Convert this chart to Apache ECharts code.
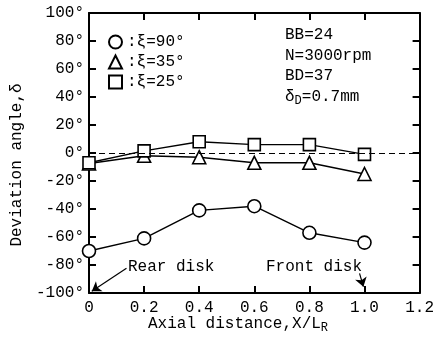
<!DOCTYPE html>
<html><head><meta charset="utf-8">
<script src="https://cdn.jsdelivr.net/npm/echarts@6/dist/echarts.min.js"></script>
<style>html,body{margin:0;padding:0;background:#fff}#c{width:437px;height:337px}</style>
</head><body><div id="c"></div>
<script>
const xValues = [0, 0.2, 0.4, 0.6, 0.8, 1.0];
const xi90 = [-70, -61, -41, -38, -57, -64];
const xi35 = [-7.5, -2, -3, -7, -7, -15];
const xi25 = [-7, 1.5, 8, 6, 6, -1];
const seriesNames = [':ξ=90°', ':ξ=35°', ':ξ=25°'];
const infoLines = ['BB=24', 'N=3000rpm', 'BD=37'];

const F = 'Liberation Mono, DejaVu Sans Mono, monospace';
const FS = 16;
const pair = a => xValues.map((x, i) => [x, a[i]]);
const chart = echarts.init(document.getElementById('c'), null, {renderer: 'canvas'});
const axisCommon = {
  type: 'value',
  axisLine: {show: true, onZero: false, lineStyle: {color: '#000', width: 2}},
  axisTick: {show: true, inside: true, length: 7, lineStyle: {color: '#000', width: 2}},
  splitLine: {show: false}
};
const baseSeries = (name, data, symbol, size) => ({
  name, type: 'line', data: pair(data), symbol, symbolSize: size,
  showSymbol: true,
  lineStyle: {color: '#000', width: 1.4},
  itemStyle: {color: '#fff', borderColor: '#000', borderWidth: 1.6},
  z: 3
});
const s1 = baseSeries(seriesNames[0], xi90, 'circle', 13);
s1.markLine = {
  silent: true, animation: false,
  label: {show: false},
  lineStyle: {color: '#000', width: 1.2, type: 'solid'},
  symbolSize: 9,
  data: [
    [{coord: [0.136, -82.4], symbol: 'none'}, {coord: [0.01, -98.8], symbol: 'arrow'}],
    [{coord: [0.982, -86], symbol: 'none'}, {coord: [0.996, -95.5], symbol: 'arrow'}]
  ]
};
const s3 = baseSeries(seriesNames[2], xi25, 'rect', 12);
s3.markLine = {
  silent: true, animation: false, symbol: ['none', 'none'],
  label: {show: false},
  lineStyle: {color: '#000', width: 1.2, type: [6, 4]},
  data: [{yAxis: 0}]
};
chart.setOption({
  animation: false,
  backgroundColor: '#fff',
  textStyle: {fontFamily: F},
  grid: {left: 89, top: 13, right: 13, bottom: 44},
  legend: {
    orient: 'vertical', left: 108, top: 34, padding: 0, itemGap: 4, itemWidth: 13, itemHeight: 13,
    textStyle: {fontFamily: F, fontSize: FS, color: '#000'},
    data: [
      {name: seriesNames[0], icon: 'circle'},
      {name: seriesNames[1], icon: 'triangle'},
      {name: seriesNames[2], icon: 'rect'}
    ],
    selectedMode: false
  },
  xAxis: [
    Object.assign({}, axisCommon, {
      position: 'bottom', min: 0, max: 1.2, interval: 0.2,
      axisLabel: {color: '#000', fontFamily: F, fontSize: FS, margin: 7,
        formatter: v => v === 0 ? '0' : v.toFixed(1)}
    }),
    Object.assign({}, axisCommon, {
      position: 'top', min: 0, max: 1.2, interval: 0.2, axisLabel: {show: false}
    })
  ],
  yAxis: [
    Object.assign({}, axisCommon, {
      position: 'left', min: -100, max: 100, interval: 20,
      axisLabel: {color: '#000', fontFamily: F, fontSize: FS, margin: 5,
        formatter: v => v + '°'}
    }),
    Object.assign({}, axisCommon, {
      position: 'right', min: -100, max: 100, interval: 20, axisLabel: {show: false}
    })
  ],
  series: [s1, baseSeries(seriesNames[1], xi35, 'triangle', 13), s3],
  graphic: [
    {type: 'text', left: 285, top: 25, style: {
      text: infoLines.join('\n') + '\n{d|δ}{s|D}{d|=0.7mm}',
      fill: '#000', font: FS + 'px ' + F, lineHeight: 20.5,
      rich: {d: {fontFamily: F, fontSize: FS, fill: '#000'},
             s: {fontFamily: F, fontSize: 12, fill: '#000', verticalAlign: 'bottom', padding: [8, 0, 0, 0]}}
    }},
    {type: 'text', left: 128, top: 259, style: {text: 'Rear disk', fill: '#000', font: FS + 'px ' + F}},
    {type: 'text', left: 266, top: 259, style: {text: 'Front disk', fill: '#000', font: FS + 'px ' + F}},
    {type: 'text', x: 17, y: 165, rotation: Math.PI / 2, style: {
      text: 'Deviation angle,δ', fill: '#000', font: FS + 'px ' + F, align: 'center', verticalAlign: 'middle'}},
    {type: 'text', left: 148, top: 316, style: {
      text: '{n|Axial distance,X/L}{s|R}', rich: {
        n: {fontFamily: F, fontSize: FS, fill: '#000'},
        s: {fontFamily: F, fontSize: 12, fill: '#000', verticalAlign: 'bottom', padding: [8, 0, 0, 0]}}}}
  ]
});
</script></body></html>
